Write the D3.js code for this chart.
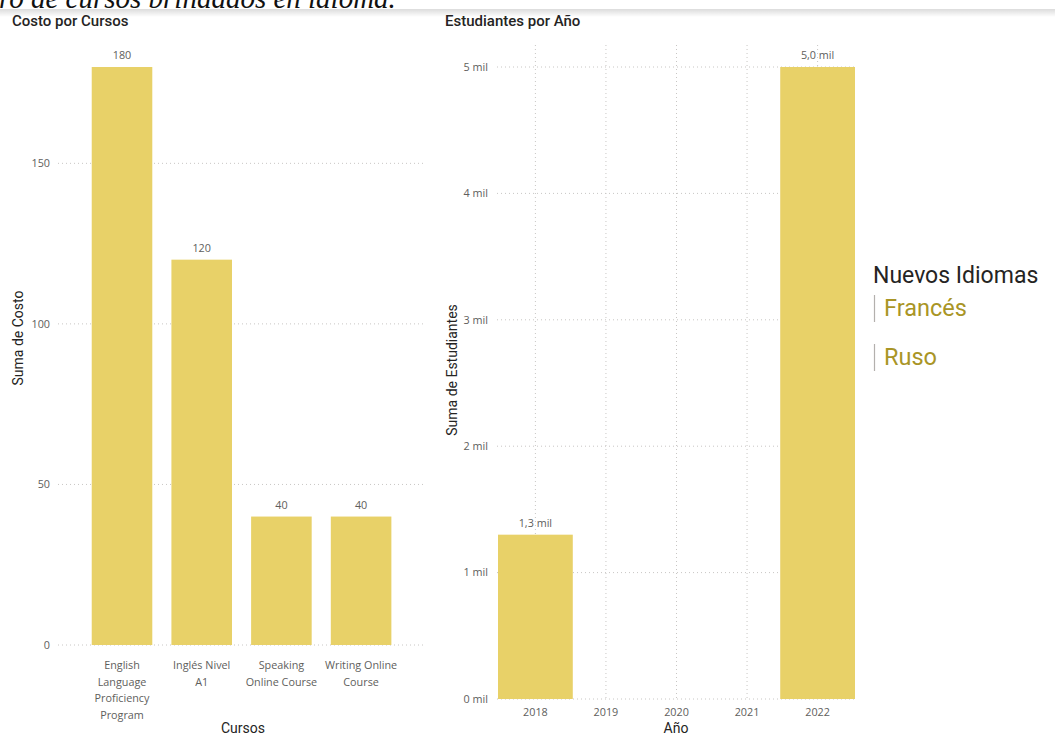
<!DOCTYPE html>
<html>
<head>
<meta charset="utf-8">
<script src="https://cdn.jsdelivr.net/npm/d3@7"></script>
<style>
  body { margin: 0; background: #fff; overflow: hidden; }
  svg { display: block; }
  .tick-label { font-family: "Segoe UI", "Open Sans", sans-serif; font-size: 10.8px; fill: #605E5C; }
  .title { font-family: "Roboto", sans-serif; font-weight: 500; font-size: 15px; fill: #252423; }
  .axis-title { font-family: "Roboto", sans-serif; font-weight: 400; font-size: 14px; fill: #252423; }
</style>
</head>
<body>
<script>
// ! data
const cursos = ["English Language Proficiency Program", "Inglés Nivel A1", "Speaking Online Course", "Writing Online Course"];
// tick labels as Power BI wraps them
const cursoLineas = [
  ["English", "Language", "Proficiency", "Program"],
  ["Inglés Nivel", "A1"],
  ["Speaking", "Online Course"],
  ["Writing Online", "Course"]
];
const costo = [180, 120, 40, 40];
const costoTicks = [0, 50, 100, 150];

const anios = [2018, 2019, 2020, 2021, 2022];
const estudiantes = [1300, null, null, null, 5000];
const estudiantesTicks = [0, 1000, 2000, 3000, 4000, 5000];

const idiomas = ["Francés", "Ruso"];

const width = 1055;
const height = 735;
const barColor = "#E8D168";
const gridColor = "#C8C6C4";

const svg = d3.select("body").append("svg")
  .attr("width", width)
  .attr("height", height);

// ! cut-off heading at the very top
svg.append("text")
  .attr("x", -1)
  .attr("y", 8)
  .style("font-family", "Liberation Serif, serif")
  .style("font-style", "italic")
  .style("font-size", "29px")
  .style("fill", "#111")
  .text("ro de cursos brindados en idioma.");

const defs = svg.append("defs");
const grad = defs.append("linearGradient")
  .attr("id", "shadow").attr("x1", 0).attr("y1", 0).attr("x2", 0).attr("y2", 1);
grad.append("stop").attr("offset", 0).attr("stop-color", "#000").attr("stop-opacity", 0.14);
grad.append("stop").attr("offset", 1).attr("stop-color", "#000").attr("stop-opacity", 0);
svg.append("rect").attr("x", 0).attr("y", 9).attr("width", width).attr("height", 8)
  .attr("fill", "url(#shadow)");

// ================= Costo por Cursos =================
const left = svg.append("g");

left.append("text").attr("class", "title").attr("x", 12).attr("y", 26).text("Costo por Cursos");

const xCurso = d3.scaleBand()
  .domain(cursos)
  .range([72.6, 410.5])
  .paddingInner(0.24)
  .paddingOuter(0.24);

const yCosto = d3.scaleLinear()
  .domain([0, 180])
  .range([645, 67]);

left.selectAll(".grid")
  .data(costoTicks)
  .enter()
  .append("line")
  .attr("x1", 58).attr("x2", 425)
  .attr("y1", (d) => yCosto(d)).attr("y2", (d) => yCosto(d))
  .attr("stroke", gridColor)
  .attr("stroke-dasharray", "1,3");

left.selectAll(".ytick")
  .data(costoTicks)
  .enter()
  .append("text")
  .attr("class", "tick-label")
  .attr("x", 50)
  .attr("y", (d) => yCosto(d))
  .attr("dy", "0.35em")
  .attr("text-anchor", "end")
  .text((d) => d);

left.selectAll("rect")
  .data(cursos)
  .enter()
  .append("rect")
  .attr("x", (d) => xCurso(d))
  .attr("y", (d, i) => yCosto(costo[i]))
  .attr("width", xCurso.bandwidth())
  .attr("height", (d, i) => yCosto(0) - yCosto(costo[i]))
  .attr("fill", barColor);

left.selectAll(".value")
  .data(cursos)
  .enter()
  .append("text")
  .attr("class", "tick-label")
  .attr("x", (d) => xCurso(d) + xCurso.bandwidth() / 2)
  .attr("y", (d, i) => yCosto(costo[i]) - 8)
  .attr("text-anchor", "middle")
  .text((d, i) => costo[i]);

left.selectAll(".xtick")
  .data(cursos)
  .enter()
  .append("text")
  .attr("class", "tick-label xtick")
  .attr("x", (d) => xCurso(d) + xCurso.bandwidth() / 2)
  .attr("y", 669)
  .attr("text-anchor", "middle")
  .each(function (d, i) {
    const t = d3.select(this);
    cursoLineas[i].forEach((line, j) => {
      t.append("tspan")
        .attr("x", xCurso(d) + xCurso.bandwidth() / 2)
        .attr("dy", j === 0 ? 0 : 16.5)
        .text(line);
    });
  });

left.append("text").attr("class", "axis-title")
  .attr("x", 243).attr("y", 733).attr("text-anchor", "middle").text("Cursos");

left.append("text").attr("class", "axis-title")
  .attr("transform", "translate(23, 338) rotate(-90)")
  .attr("text-anchor", "middle").text("Suma de Costo");

// ================= Estudiantes por Año =================
const right = svg.append("g");

right.append("text").attr("class", "title").attr("x", 445).attr("y", 26).text("Estudiantes por Año");

const xAnio = d3.scaleLinear()
  .domain([2017.47, 2022.53])
  .range([498, 855]);

const yEst = d3.scaleLinear()
  .domain([0, 5000])
  .range([699, 67]);

right.selectAll(".vgrid")
  .data(anios)
  .enter()
  .append("line")
  .attr("x1", (d) => xAnio(d)).attr("x2", (d) => xAnio(d))
  .attr("y1", 45).attr("y2", 699)
  .attr("stroke", gridColor)
  .attr("stroke-dasharray", "1,3");

right.selectAll(".hgrid")
  .data(estudiantesTicks)
  .enter()
  .append("line")
  .attr("x1", 497).attr("x2", 855)
  .attr("y1", (d) => yEst(d)).attr("y2", (d) => yEst(d))
  .attr("stroke", gridColor)
  .attr("stroke-dasharray", "1,3");

const fmtMil = (v) => d3.format(".0f")(v / 1000) + " mil";
const fmtMil1 = (v) => d3.format(".1f")(v / 1000).replace(".", ",") + " mil";

right.selectAll(".ytick")
  .data(estudiantesTicks)
  .enter()
  .append("text")
  .attr("class", "tick-label")
  .attr("x", 488)
  .attr("y", (d) => yEst(d))
  .attr("dy", "0.35em")
  .attr("text-anchor", "end")
  .text(fmtMil);

const estData = anios.map((a, i) => ({ anio: a, val: estudiantes[i] })).filter((d) => d.val != null);

right.selectAll("rect")
  .data(estData)
  .enter()
  .append("rect")
  .attr("x", (d) => xAnio(d.anio - 0.53))
  .attr("y", (d) => yEst(d.val))
  .attr("width", (d) => xAnio(d.anio + 0.53) - xAnio(d.anio - 0.53))
  .attr("height", (d) => yEst(0) - yEst(d.val))
  .attr("fill", barColor);

right.selectAll(".value")
  .data(estData)
  .enter()
  .append("text")
  .attr("class", "tick-label")
  .attr("x", (d) => xAnio(d.anio))
  .attr("y", (d) => yEst(d.val) - 8)
  .attr("text-anchor", "middle")
  .text((d) => fmtMil1(d.val));

right.selectAll(".xtick")
  .data(anios)
  .enter()
  .append("text")
  .attr("class", "tick-label")
  .attr("x", (d) => xAnio(d))
  .attr("y", 716)
  .attr("text-anchor", "middle")
  .text((d) => d);

right.append("text").attr("class", "axis-title")
  .attr("x", 676).attr("y", 733).attr("text-anchor", "middle").text("Año");

right.append("text").attr("class", "axis-title")
  .attr("transform", "translate(457, 370) rotate(-90)")
  .attr("text-anchor", "middle").text("Suma de Estudiantes");

// ================= Slicer: Nuevos Idiomas =================
const slicer = svg.append("g").attr("transform", "translate(873, 0)");

slicer.append("text")
  .attr("x", 0).attr("y", 283)
  .style("font-family", "Roboto, sans-serif")
  .style("font-size", "23px")
  .style("fill", "#252423")
  .text("Nuevos Idiomas");

slicer.selectAll(".item")
  .data(idiomas)
  .enter()
  .append("g")
  .attr("transform", (d, i) => `translate(0, ${308 + i * 49})`)
  .each(function (d) {
    const g = d3.select(this);
    g.append("line")
      .attr("x1", 1.5).attr("x2", 1.5)
      .attr("y1", -13).attr("y2", 14)
      .attr("stroke", "#B3B0AD").attr("stroke-width", 1.2);
    g.append("text")
      .attr("x", 11).attr("y", 0).attr("dy", "0.35em")
      .style("font-family", "Roboto, sans-serif")
      .style("font-size", "23.5px")
      .style("fill", "#A99526")
      .text(d);
  });
</script>
</body>
</html>
